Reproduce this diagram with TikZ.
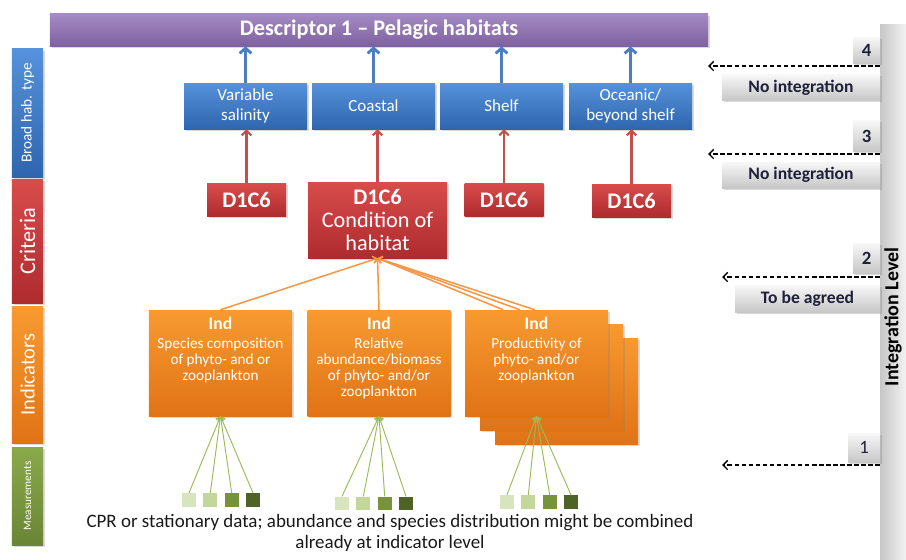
\documentclass[tikz,border=0pt]{standalone}
\usepackage{fontspec}
\setmainfont{Carlito}
\usetikzlibrary{arrows.meta,shadows}

\definecolor{desctop}{HTML}{A48AC3}
\definecolor{descbot}{HTML}{7E61A0}
\definecolor{habtop}{HTML}{5592DB}
\definecolor{habbot}{HTML}{2E65AE}
\definecolor{crittop}{HTML}{D84C4B}
\definecolor{critbot}{HTML}{AE2B2E}
\definecolor{indtop}{HTML}{F89A30}
\definecolor{indbot}{HTML}{E07316}
\definecolor{meastop}{HTML}{8AA94A}
\definecolor{measbot}{HTML}{6A8535}
\definecolor{meas1}{HTML}{D7E4BD}
\definecolor{meas2}{HTML}{C3D69B}
\definecolor{meas3}{HTML}{77933C}
\definecolor{meas4}{HTML}{4F6228}
\definecolor{habline}{HTML}{4A7EC0}
\definecolor{critline}{HTML}{C0504D}
\definecolor{indline}{HTML}{F79646}
\definecolor{measline}{HTML}{9BBB59}
\definecolor{lvltext}{HTML}{1F1F3A}

\tikzset{
  box/.style={draw=none, inner sep=0pt, align=center, text=white,
    drop shadow={opacity=0.3, shadow xshift=1.5pt, shadow yshift=-1.5pt}},
  titlebar/.style={box, top color=desctop, bottom color=descbot,
    font=\fontsize{19}{21}\selectfont\bfseries},
  sidelbl/.style={box, rotate=90, minimum height=0.93cm},
  habbox/.style={box, top color=habtop, bottom color=habbot,
    minimum width=3.69cm, minimum height=1.38cm,
    font=\fontsize{14.5}{16.5}\selectfont},
  critbox/.style={box, top color=crittop, bottom color=critbot,
    minimum width=2.37cm, minimum height=0.99cm,
    font=\fontsize{19}{20}\selectfont\bfseries},
  indbox/.style={box, top color=indtop, bottom color=indbot,
    minimum width=4.29cm, minimum height=3.18cm},
  indtext/.style={anchor=north, yshift=-3pt, align=center, text=white,
    font=\fontsize{13}{13.8}\selectfont},
  meas/.style={draw=none, inner sep=0pt, minimum size=0.41cm},
  lvlbox/.style={box, top color=black!3, bottom color=black!22, text=lvltext,
    minimum height=0.78cm, font=\fontsize{15}{17}\selectfont\bfseries},
  lvlnum/.style={lvlbox, minimum width=0.81cm, font=\fontsize{16}{18}\selectfont\bfseries},
  habarrow/.style={-{Straight Barb[length=4.5pt,width=10pt]}, line width=2.4pt, draw=habline},
  critarrow/.style={-{Straight Barb[length=4pt,width=8pt]}, line width=1.8pt, draw=critline},
  indarrow/.style={-{Straight Barb[length=3pt,width=6pt]}, line width=1.3pt, draw=indline},
  measarrow/.style={-{Straight Barb[length=3pt,width=6pt]}, line width=0.8pt, draw=measline},
  lvlarrow/.style={-{Straight Barb[length=4pt,width=8pt]}, line width=1.2pt,
    dash pattern=on 4pt off 2pt, draw=black},
}

\begin{document}
\begin{tikzpicture}[x=0.03cm, y=-0.03cm]
    \useasboundingbox (0,0) rectangle (906,559);

    % Integration level bar
    \node[draw=none, left color=black!22, right color=black!5, minimum width=0.78cm,
      minimum height=16.02cm, inner sep=0pt] (lvlbar) at (893,292) {};
    \node[rotate=90, text=black, font=\fontsize{17}{19}\selectfont\bfseries]
      (lvltitle) at (893,317) {Integration Level};

    % Side labels
    \node[sidelbl, top color=habtop, bottom color=habbot, minimum width=3.84cm,
      font=\fontsize{13}{15}\selectfont] (sidehab) at (27.5,113) {Broad hab. type};
    \node[sidelbl, top color=crittop, bottom color=critbot, minimum width=3.72cm,
      font=\fontsize{19}{21}\selectfont] (sidecrit) at (27.5,241) {Criteria};
    \node[sidelbl, top color=indtop, bottom color=indbot, minimum width=4.11cm,
      font=\fontsize{17.5}{19}\selectfont] (sideind) at (27.5,374.5) {Indicators};
    \node[sidelbl, top color=meastop, bottom color=measbot, minimum width=2.94cm,
      font=\fontsize{9.6}{11}\selectfont] (sidemeas) at (27.5,496) {Measurements};

    % Descriptor
    \node[titlebar, minimum width=19.74cm, minimum height=0.96cm] (desc) at (379,30)
      {Descriptor 1 -- Pelagic habitats};

    % Broad habitat types
    \node[habbox] (hab1) at (245.5,106) {Variable\\salinity};
    \node[habbox] (hab2) at (373.5,106) {Coastal};
    \node[habbox] (hab3) at (501.5,106) {Shelf};
    \node[habbox] (hab4) at (630.5,106) {Oceanic/\\beyond shelf};

    % Criteria
    \node[critbox] (crit1) at (246.5,200) {D1C6};
    \node[critbox, minimum width=4.17cm, minimum height=2.28cm] (crit2) at (377.5,220)
      {D1C6\\\mdseries Condition of\\\mdseries habitat};
    \node[critbox] (crit3) at (504,199.5) {D1C6};
    \node[critbox] (crit4) at (631.5,200.5) {D1C6};

    % Indicators
    \node[indbox] (ind3c) at (566.5,391) {};
    \node[indbox] (ind3b) at (551.5,377) {};
    \node[indbox, label={[indtext]north:{\fontsize{15}{17.5}\selectfont\bfseries Ind\\[2pt]Species composition\\of phyto- and or\\zooplankton}}]
      (ind1) at (220.5,363) {};
    \node[indbox, label={[indtext]north:{\fontsize{15}{17.5}\selectfont\bfseries Ind\\[2pt]Relative\\abundance/biomass\\of phyto- and/or\\zooplankton}}]
      (ind2) at (379,363) {};
    \node[indbox, label={[indtext]north:{\fontsize{15}{17.5}\selectfont\bfseries Ind\\[2pt]Productivity of\\phyto- and/or\\zooplankton}}]
      (ind3) at (536.5,363) {};

    % Measurements
    \foreach \g/\gx/\gy in {1/221/500, 2/374/503.5, 3/539/502}
        \foreach \i/\dx in {1/-32, 2/-10.7, 3/10.7, 4/32}
            \node[meas, fill=meas\i] (m\g\i) at (\gx+\dx,\gy) {};

    \node[align=center, text=black!90, font=\fontsize{16.2}{18.5}\selectfont] (note) at (390,533)
      {CPR or stationary data; abundance and species distribution might be combined\\already at indicator level};

    % Connectors
    \foreach \h in {1,2,3,4}
        \draw[habarrow] (hab\h.north) -- (hab\h.north |- desc.south);
    \foreach \h in {1,2,3,4}
        \draw[critarrow] (crit\h.north) -- (crit\h.north |- hab\h.south);
    \draw[indarrow] (ind1.north) -- (crit2.south);
    \draw[indarrow] (ind2.north) -- (crit2.south);
    \foreach \s in {-1.0,-0.5,-0.05}
        \draw[indarrow] ([xshift=\s cm]ind3.north) -- (crit2.south);
    \foreach \g in {1,2,3}
        \foreach \i in {1,2,3,4}
            \draw[measarrow] (m\g\i.north) -- (ind\g.south);

    % Integration levels
    \node[lvlnum] (lvl4) at (866.5,50) {4};
    \node[lvlbox, minimum width=4.74cm] (lvl4txt) at (801,87.5) {No integration};
    \node[lvlnum, minimum height=0.93cm] (lvl3) at (866.5,136) {3};
    \node[lvlbox, minimum width=4.74cm] (lvl3txt) at (801,175) {No integration};
    \node[lvlnum, minimum height=0.9cm] (lvl2) at (866.5,258) {2};
    \node[lvlbox, minimum width=4.35cm, minimum height=0.81cm] (lvl2txt) at (807.5,298.5) {To be agreed};
    \node[lvlnum, minimum width=0.96cm, minimum height=0.87cm, font=\fontsize{16}{18}\selectfont]
      (lvl1) at (864,447.5) {1};

    \coordinate (tip4) at (708,66);
    \coordinate (tip3) at (708,154);
    \coordinate (tip2) at (722,277);
    \coordinate (tip1) at (722,465);
    \foreach \l in {1,2,3,4}
        \draw[lvlarrow] (lvlbar.west |- tip\l) -- (tip\l);
\end{tikzpicture}
\end{document}
